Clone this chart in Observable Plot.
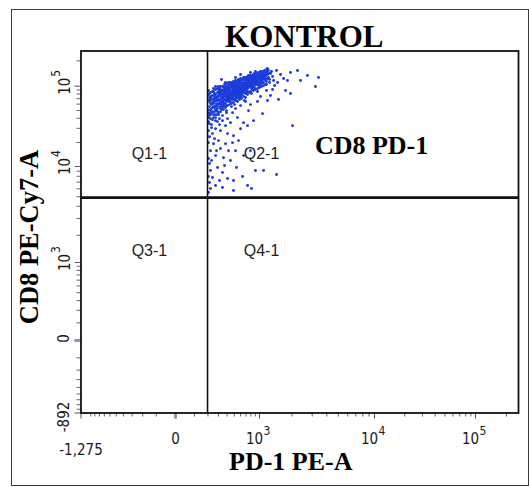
<!DOCTYPE html>
<html><head><meta charset="utf-8">
<script src="https://cdn.jsdelivr.net/npm/d3@7"></script>
<script src="https://cdn.jsdelivr.net/npm/@observablehq/plot@0.6"></script>
<style>
body{margin:0;background:#fff;}
#wrap{position:relative;width:529px;height:487px;overflow:hidden;background:#fff;}
#outer{position:absolute;left:11px;top:9px;width:518px;height:477px;border:1.5px solid #3a3a3a;box-sizing:border-box;pointer-events:none;}
#wrap svg{position:absolute;left:0;top:0;}
</style></head><body><div id="wrap"><div id="outer"></div></div>
<script>
// ---- data ----
const title = "KONTROL";
const xTitle = "PD-1 PE-A";
const yTitle = "CD8 PE-Cy7-A";
const gateName = ["CD8 PD-1"];
const gateNamePD1 = [9460];
const gateNameCD8 = [18300];

const pd1 = [
204,213,204,222,213,204,231,213,222,204,231,240,231,240,222,
250,270,260,280,250,270,290,260,280,250,270,290,280,260,290,
300,322,311,333,300,345,322,311,333,300,345,345,311,333,
357,381,369,394,357,407,381,369,394,357,407,381,394,369,
420,446,433,460,420,475,446,433,460,475,420,446,460,433,
489,519,504,534,489,550,519,504,534,550,489,519,534,
566,601,583,618,566,636,601,583,618,636,566,601,
654,690,672,710,654,730,690,672,710,730,654,
750,790,770,811,750,833,790,770,811,833,
856,901,878,925,856,950,901,925,878,
975,1023,1000,1046,975,1070,1023,1070,
1094,1142,1118,1167,1192,1218,1142,1094,
1273,1330,1245,1300,1360,
260,280,300,322,345,369,394,420,446,475,504,534,566,601,636,672,710,750,790,833,
878,925,975,1023,240,222,290,311,333,357,381,407,433,460,489,519,550,583,618,654,
690,730,770,811,856,901,950,1000,1046,1094,231,250,270,213,
1448,1680,1937,2235,2728,3200,1937,1748,1510,1273,1192,1070,856,750,654,2020,1480,1820,1330,1390,
1575,1167,1023,950,790,690,601,550,730,601,2376,3400,601,333,1192,901,
270,322,407,489,475,381,300,250,322,420,519,270,357,446,290,222,345,240,489,270,
345,636,730,901,1094,1448,222,489,204,213,204,222,204,213,204,213,204,231,240,381,
446,345,311,407,475,519,394,290,566,654,790,231,260,280,369,534,811,311,407,
204,222,213,231,204,240,222,204,240,213,240,222,231,213,
250,270,290,260,280,250,270,290,260,280,250,290,270,260,
300,322,345,311,333,300,322,345,311,333,322,345,300,333,322,
369,394,357,381,407,407,369,394,357,381,407,394,369,357,381,
420,446,475,433,460,420,446,475,433,460,475,446,420,475,433,
489,519,550,504,534,489,519,550,504,534,489,550,519,504,550,
566,601,636,583,618,601,636,583,566,618,601,636,583,618,566,
654,690,730,672,710,690,730,654,690,730,672,710,690,710,
750,790,833,770,811,790,833,750,770,811,790,750,833,811,
856,878,925,950,856,901,950,878,925,901,856,950,
975,1023,1070,1000,1046,1023,975,1070,1000,1046,1070,
1118,1167,1218,1142,1192,1094,1167,1118,1142,1192,1218,
300,322,357,381,407,433,460,489,519,550,583,618,654,690,730,770,811,856,901,950,
1000,1046,1094,1167,1245,394,345,504,672,311,381,270,519,790
];
const cd8 = [
78800,72300,66400,60900,55900,51300,47000,43200,39600,36400,33400,76600,68300,54300,83500,
85900,78800,72300,66400,60900,57500,52800,48400,44400,40800,37400,83500,72300,64500,59200,
91000,83500,76600,72300,68300,64500,60900,55900,51300,47000,88400,78800,66400,59200,
96400,91000,83500,78800,74400,70300,66400,60900,57500,88400,83500,74400,93600,68300,
102000,96400,88400,83500,78800,74400,70300,64500,60900,93600,88400,81100,99200,72300,
104800,99200,93600,88400,83500,78800,74400,68300,102000,91000,76600,85900,70300,
110700,104800,96400,91000,85900,81100,76600,72300,107700,99200,93600,85900,
117000,110700,102000,96400,91000,85900,81100,107700,117000,102000,83500,
123600,117000,107700,102000,96400,91000,85900,120300,110700,99200,
127100,120300,110700,104800,99200,93600,134200,117000,96400,
134200,127100,117000,110700,102000,137800,104800,120300,
141600,130600,120300,113800,137800,127100,104800,110700,
141600,130600,120300,149500,117000,
81100,55900,60900,68300,72300,76600,85900,68300,76600,85900,81100,81100,102000,93600,88400,93600,104800,110700,99200,107700,
120300,127100,110700,117000,62700,49800,48400,85900,64500,68300,81100,76600,93600,70300,91000,81100,104800,81100,99200,99200,
88400,93600,102000,123600,113800,104800,123600,127100,120300,127100,74400,44400,40800,45700,
153600,123600,145500,153600,134200,99200,81100,88400,68300,76600,66400,45700,37400,49800,35300,32400,110700,117000,91000,102000,
137800,88400,74400,64500,59200,64500,57500,40800,32400,29700,117000,127100,137800,120300,162400,149500,
29700,28100,25800,24300,19900,19300,21100,19300,16800,15800,15800,13700,12900,11900,9780,9130,8720,7780,7270,6480,
6180,7960,6480,9130,9130,8340,6050,5780,28100,23600,19900,15800,12600,10900,7960,6940,5520,11900,25800,32400,
35300,37400,33400,39600,47000,52800,49800,36400,21100,13700,15800,30600,22300,15800,10300,9780,6050,7270,7610,
88400,74400,64500,59200,47000,48400,44400,40800,38500,34300,85900,68300,52800,81100,
93600,91000,93600,76600,60900,55900,51300,66400,54300,49800,68300,74400,70300,44400,
99200,99200,99200,93600,88400,81100,76600,59200,60900,55900,52800,54300,74400,81100,91000,
104800,107700,81100,99200,99200,91000,91000,72300,62700,60900,64500,66400,55900,57500,85900,
110700,110700,110700,104800,104800,96400,88400,102000,81100,76600,78800,64500,74400,68300,76600,
113800,117000,117000,107700,110700,96400,91000,96400,85900,76600,70300,72300,107700,99200,85900,
120300,123600,120300,113800,117000,113800,107700,104800,78800,83500,81100,93600,88400,76600,72300,
127100,127100,130600,120300,123600,120300,120300,107700,102000,110700,88400,88400,93600,83500,
134200,134200,134200,130600,130600,123600,123600,117000,113800,117000,107700,102000,113800,93600,
137800,141600,141600,134200,120300,127100,113800,130600,110700,113800,104800,104800,
145500,149500,149500,137800,141600,137800,123600,127100,107700,130600,110700,
153600,158000,153600,145500,149500,134200,137800,134200,120300,123600,141600,
44400,48400,51300,54300,57500,59200,55900,62700,66400,64500,68300,70300,74400,72300,78800,83500,81100,88400,91000,85900,
96400,99200,102000,104800,110700,47000,43200,59200,66400,39600,110700,99200,127100,145500
];

const gatePD1 = [196];
const gateCD8 = [4900];

const quadLabels = ["Q1-1", "Q2-1", "Q3-1", "Q4-1"];
const quadPD1 = [-147, 1046, -147, 1046];
const quadCD8 = [14500, 14500, 1370, 1370];

const xDomain = [-1275, 0, 1000, 10000, 100000, 262144];
const yDomain = [-892, 0, 1000, 10000, 100000, 262144];
const decades = [1000, 10000, 100000];
const decadeBase = "10";
const decadeExp = ["3", "4", "5"];
const zeroLabel = "0";
const xEndLabel = "-1,275";
const yEndLabel = "-892";
const xMinor = [-1000,-900,-800,-700,-600,-500,-400,-300,-200,-100,
  100,200,300,400,500,600,700,800,900,
  2000,3000,4000,5000,6000,7000,8000,9000,
  20000,30000,40000,50000,60000,70000,80000,90000,200000];
const yMinor = [-800,-700,-600,-500,-400,-300,-200,-100,
  100,200,300,400,500,600,700,800,900,
  2000,3000,4000,5000,6000,7000,8000,9000,
  20000,30000,40000,50000,60000,70000,80000,90000,200000];

// ---- build ----
const n = Math.min(pd1.length, cd8.length);
const events = d3.range(n).map(i => ({pd1: pd1[i], cd8: cd8[i]}));
const quads = quadLabels.map((t, i) => ({t, pd1: quadPD1[i], cd8: quadCD8[i]}));
const serif = "'Liberation Serif', 'Times New Roman', serif";
const sans = "'Liberation Sans', Arial, sans-serif";
const narrow = "'Liberation Sans Narrow', 'Arial Narrow', 'DejaVu Sans Condensed', 'Liberation Sans', sans-serif";
const tickTxt = {fontFamily: narrow, fill: "#1a1a1a", lineAnchor: "middle", textAnchor: "middle"};
const noLbl = () => "";

const chart = Plot.plot({
  width: 529, height: 487,
  marginLeft: 80.5, marginRight: 11, marginTop: 50.5, marginBottom: 74.5,
  style: {background: "transparent", fontFamily: sans, color: "#1a1a1a"},
  x: {type: "symlog", constant: 200, domain: xDomain, range: [80.5, 175, 259, 374, 475, 518]},
  y: {type: "symlog", constant: 200, domain: yDomain, range: [412.5, 340, 262, 166, 85.7, 50.5]},
  marks: [
    Plot.axisX(xMinor, {tickSize: 4, tickFormat: noLbl, label: null, stroke: "#666"}),
    Plot.axisX([xDomain[0], 0, ...decades], {tickSize: 6, tickFormat: noLbl, label: null, stroke: "#555"}),
    Plot.axisX([0], {tickSize: 6, tickFormat: noLbl, label: null, stroke: "#999", strokeWidth: 3}),
    Plot.axisY(yMinor, {tickSize: 4, tickFormat: noLbl, label: null, stroke: "#666"}),
    Plot.axisY([yDomain[0], 0, ...decades], {tickSize: 6, tickFormat: noLbl, label: null, stroke: "#555"}),
    Plot.axisY([0], {tickSize: 6, tickFormat: noLbl, label: null, stroke: "#999", strokeWidth: 3}),
    // x tick labels
    Plot.text([0], {...tickTxt, x: d => d, text: () => zeroLabel, frameAnchor: "bottom", dy: 26, fontSize: 15}),
    Plot.text(decades, {...tickTxt, x: d => d, text: () => decadeBase, frameAnchor: "bottom", dx: -5, dy: 26, fontSize: 15}),
    Plot.text(decades, {...tickTxt, x: d => d, text: (d, i) => decadeExp[i], frameAnchor: "bottom", dx: 7.5, dy: 18, fontSize: 12}),
    Plot.text([xDomain[0]], {...tickTxt, x: d => d, text: () => xEndLabel, frameAnchor: "bottom", dy: 37, fontSize: 15}),
    // y tick labels (rotated)
    Plot.text([0], {...tickTxt, y: d => d, text: () => zeroLabel, frameAnchor: "left", dx: -17, dy: -2, rotate: -90, fontSize: 15}),
    Plot.text(decades, {...tickTxt, y: d => d, text: () => decadeBase, frameAnchor: "left", dx: -16, dy: 0, rotate: -90, fontSize: 15}),
    Plot.text(decades, {...tickTxt, y: d => d, text: (d, i) => decadeExp[i], frameAnchor: "left", dx: -24.5, dy: -13, rotate: -90, fontSize: 12}),
    Plot.text([yDomain[0]], {...tickTxt, y: d => d, text: () => yEndLabel, frameAnchor: "left", dx: -17, dy: 4, rotate: -90, fontSize: 15}),
    // events
    Plot.dot(events, {x: "pd1", y: "cd8", r: 1.45, fill: "#1b3cd9", stroke: "none"}),
    // gates & frame
    Plot.ruleX(gatePD1, {stroke: "#111", strokeWidth: 1.6}),
    Plot.ruleY(gateCD8, {stroke: "#111", strokeWidth: 2.6}),
    Plot.frame({stroke: "#111", strokeWidth: 1.8}),
    // labels
    Plot.text(quads, {x: "pd1", y: "cd8", text: "t", fontSize: 16, fill: "#222", lineAnchor: "middle"}),
    Plot.text(gateName, {x: (d, i) => gateNamePD1[i], y: (d, i) => gateNameCD8[i], text: d => d, fontSize: 26, fontWeight: "bold", fontFamily: serif, fill: "#000", lineAnchor: "middle"}),
    Plot.text([title], {frameAnchor: "top", lineAnchor: "middle", dx: 4.5, dy: -14, fontSize: 31, fontWeight: "bold", fontFamily: serif, fill: "#000"}),
    Plot.text([xTitle], {frameAnchor: "bottom", lineAnchor: "middle", dx: -9, dy: 48.5, fontSize: 26, fontWeight: "bold", fontFamily: serif, fill: "#000"}),
    Plot.text([yTitle], {frameAnchor: "left", lineAnchor: "middle", textAnchor: "middle", dx: -51.5, dy: 5, rotate: -90, fontSize: 26.5, fontWeight: "bold", fontFamily: serif, fill: "#000"})
  ]
});
document.getElementById("wrap").appendChild(chart);
</script>
</body></html>
